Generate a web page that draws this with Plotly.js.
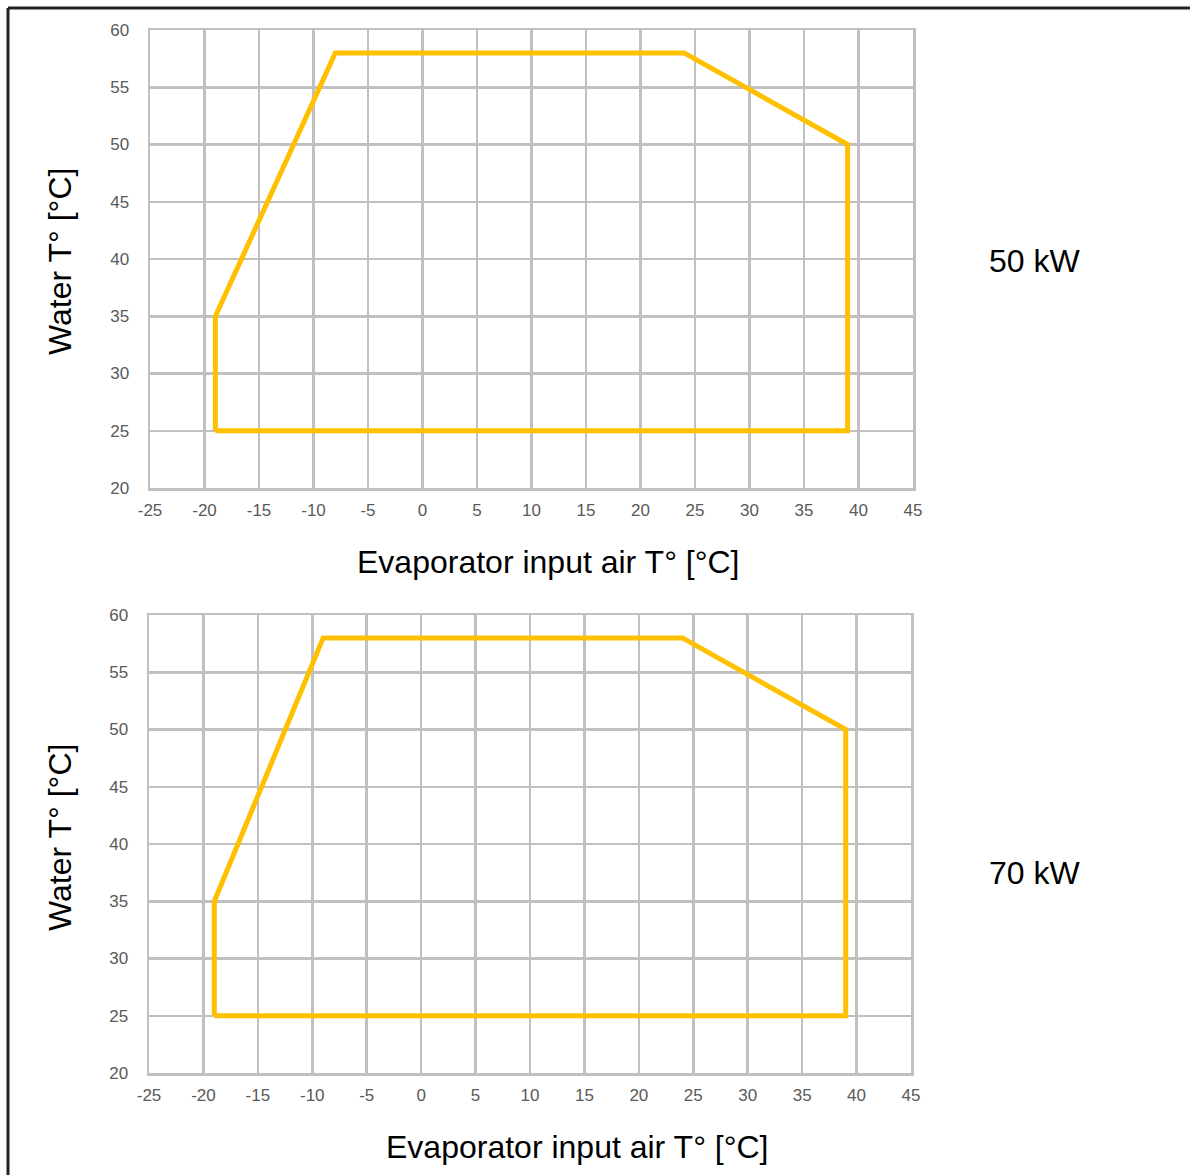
<!DOCTYPE html>
<html>
<head>
<meta charset="utf-8">
<script src="https://cdn.plot.ly/plotly-3.0.1.min.js"></script>
<style>html,body{margin:0;padding:0;background:#fff;}#chart{width:1191px;height:1175px;}</style>
</head>
<body>
<div id="chart"></div>
<script>
// Operating envelope, 50 kW unit
const air50 = [-19, -19, -8, 24, 39, 39, -19];
const water50 = [25, 35, 58, 58, 50, 25, 25];
// Operating envelope, 70 kW unit
const air70 = [-19, -19, -9, 24, 39, 39, -19];
const water70 = [25, 35, 58, 58, 50, 25, 25];
const panelLabels = ["50 kW", "70 kW"];
const xTitle = "Evaporator input air T° [°C]";
const yTitle = "Water T° [°C]";
const xTickVals = [-25, -20, -15, -10, -5, 0, 5, 10, 15, 20, 25, 30, 35, 40, 45];
const xTickText = ["-25", "-20", "-15", "-10", "-5", "0", "5", "10", "15", "20", "25", "30", "35", "40", "45"];
const yTickVals = [20, 25, 30, 35, 40, 45, 50, 55, 60];
const yTickText = ["20", "25", "30", "35", "40", "45", "50", "55", "60"];

const W = 1191, H = 1175;
const px = v => v / W;
const py = v => 1 - v / H;

const lineStyle = {color: "#FFC000", width: 5};
const traces = [
  {x: air50, y: water50, mode: "lines", line: lineStyle, xaxis: "x", yaxis: "y", showlegend: false, hoverinfo: "x+y"},
  {x: air70, y: water70, mode: "lines", line: lineStyle, xaxis: "x2", yaxis: "y2", showlegend: false, hoverinfo: "x+y"}
];

const gridC = "#c0c0c0";
const tickFont = {family: "Liberation Sans, Arial, sans-serif", size: 17, color: "#595959"};
const titleFont = {family: "Liberation Sans, Arial, sans-serif", size: 32, color: "#000"};

function xax(domain, anchor) {
  return {domain: domain, anchor: anchor, range: [-25, 45],
    tickmode: "array", tickvals: xTickVals, ticktext: xTickText,
    showgrid: true, gridcolor: gridC, gridwidth: 2.5, zeroline: false,
    showline: true, linecolor: gridC, linewidth: 2.5, mirror: true,
    ticks: "outside", ticklen: 5, tickcolor: "rgba(0,0,0,0)", tickfont: tickFont,
    fixedrange: true};
}
function yax(domain, anchor) {
  return {domain: domain, anchor: anchor, range: [20, 60],
    tickmode: "array", tickvals: yTickVals, ticktext: yTickText,
    showgrid: true, gridcolor: gridC, gridwidth: 2.5, zeroline: false,
    showline: true, linecolor: gridC, linewidth: 2.5, mirror: true,
    ticks: "outside", ticklen: 15, tickcolor: "rgba(0,0,0,0)", tickfont: tickFont,
    fixedrange: true};
}

function ann(text, x, y, angle) {
  return {text: text, xref: "paper", yref: "paper", x: px(x), y: py(y),
    xanchor: "center", yanchor: "middle", showarrow: false, font: titleFont, textangle: angle || 0};
}

const layout = {
  width: W, height: H,
  margin: {l: 0, r: 0, t: 0, b: 0},
  paper_bgcolor: "#fff", plot_bgcolor: "#fff",
  xaxis: xax([px(150), px(913)], "y"),
  yaxis: yax([py(488), py(30)], "x"),
  xaxis2: xax([px(149), px(911)], "y2"),
  yaxis2: yax([py(1073), py(615)], "x2"),
  annotations: [
    ann(panelLabels[0], 1034, 261),
    ann(panelLabels[1], 1034, 873),
    ann(xTitle, 548, 562),
    ann(xTitle, 577, 1147),
    ann(yTitle, 60, 262, -90),
    ann(yTitle, 60, 838, -90)
  ],
  shapes: [
    {type: "line", xref: "paper", yref: "paper", x0: px(8), x1: px(1190), y0: py(8), y1: py(8), line: {color: "#222", width: 3}},
    {type: "line", xref: "paper", yref: "paper", x0: px(8), x1: px(8), y0: py(8), y1: 0, line: {color: "#222", width: 3}}
  ]
};

Plotly.newPlot("chart", traces, layout, {displayModeBar: false, staticPlot: true});
</script>
</body>
</html>
